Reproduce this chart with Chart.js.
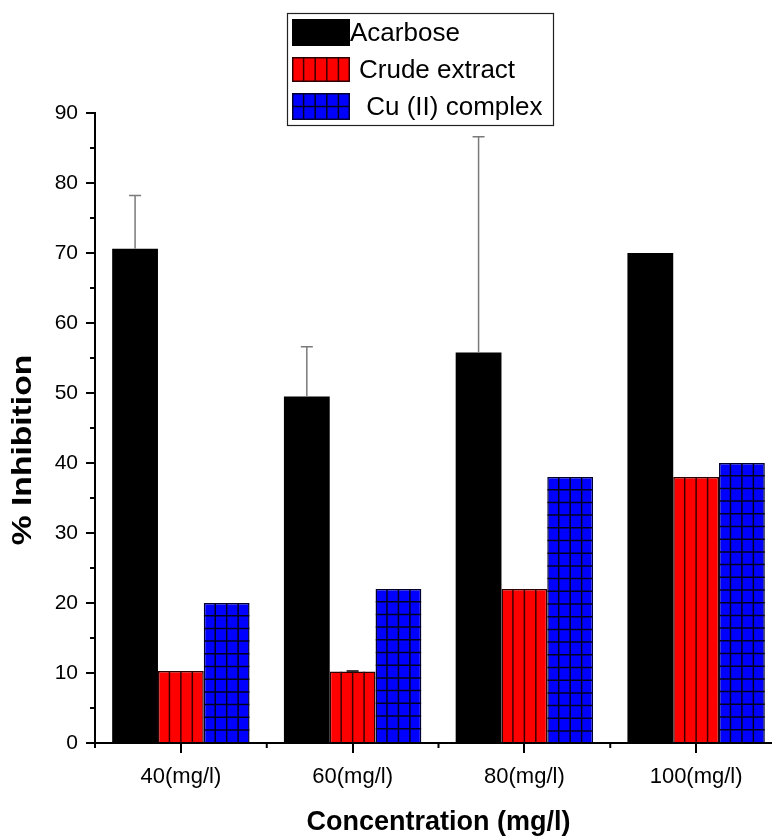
<!DOCTYPE html>
<html>
<head>
<meta charset="utf-8">
<title>% Inhibition</title>
<script src="https://cdn.jsdelivr.net/npm/chart.js@4.4.1/dist/chart.umd.min.js"></script>
<style>
    html, body { margin: 0; padding: 0; overflow: hidden; background: #fff; }
</style>
</head>
<body>
<canvas id="chart" width="784" height="839"></canvas>
<script>
// values
const categories = ['40(mg/l)', '60(mg/l)', '80(mg/l)', '100(mg/l)'];
const seriesNames = ['Acarbose', 'Crude extract', ' Cu (II) complex'];
const acarbose = [70.6, 49.5, 55.8, 70.0];
const acarboseErr = [7.6, 7.1, 30.8, 0];
const crude = [10.3, 10.2, 22.0, 38.0];
const crudeErr = [0, 0.1, 0, 0];
const copper = [20.0, 22.0, 38.0, 40.0];
const yTicks = [0, 10, 20, 30, 40, 50, 60, 70, 80, 90];
const yMinorTicks = [5, 15, 25, 35, 45, 55, 65, 75, 85];

const FONT = '"Liberation Sans", Arial, sans-serif';
const errors = [acarboseErr, crudeErr, null];
const errColors = ['#7a7a7a', '#000', '#000'];

// vertical lines for the red bars, grid for the blue ones
function hatch(ctx, left, top, width, height, cols, rowH, color) {
    ctx.save();
    ctx.beginPath();
    ctx.rect(left, top, width, height);
    ctx.clip();
    ctx.strokeStyle = color;
    ctx.lineWidth = 1.5;
    ctx.beginPath();
    for (let k = 1; k < cols; k++) {
        const lx = left + width * k / cols;
        ctx.moveTo(lx, top);
        ctx.lineTo(lx, top + height);
    }
    if (rowH) {
        for (let ly = top + rowH; ly < top + height - 1; ly += rowH) {
            ctx.moveTo(left, ly);
            ctx.lineTo(left + width, ly);
        }
    }
    ctx.stroke();
    ctx.restore();
}

const barDecor = {
    id: 'barDecor',
    afterDatasetsDraw(chart) {
        const ctx = chart.ctx;
        const yScale = chart.scales.y;
        chart.data.datasets.forEach((ds, di) => {
            const meta = chart.getDatasetMeta(di);
            meta.data.forEach((bar, i) => {
                const { x, y, base, width } = bar.getProps(['x', 'y', 'base', 'width'], true);
                const left = x - width / 2;
                if (di === 1) hatch(ctx, left, y, width, base - y, 4, 0, '#3a0000');
                if (di === 2) hatch(ctx, left, y, width, base - y, 4, 12.7, '#000020');

                const err = errors[di] ? errors[di][i] : 0;
                if (err > 0) {
                    const top = yScale.getPixelForValue(ds.data[i] + err);
                    ctx.save();
                    ctx.strokeStyle = errColors[di];
                    ctx.lineWidth = 1.5;
                    ctx.beginPath();
                    ctx.moveTo(x, y);
                    ctx.lineTo(x, top);
                    ctx.moveTo(x - 6, top);
                    ctx.lineTo(x + 6, top);
                    ctx.stroke();
                    ctx.restore();
                }
            });
        });
    }
};

const axisExtras = {
    id: 'axisExtras',
    afterDraw(chart) {
        const ctx = chart.ctx;
        const { x: xScale, y: yScale } = chart.scales;
        const area = chart.chartArea;
        ctx.save();
        ctx.strokeStyle = '#000';
        ctx.lineWidth = 2;
        ctx.beginPath();
        // minor ticks on the value axis
        yMinorTicks.forEach(v => {
            const py = yScale.getPixelForValue(v);
            ctx.moveTo(area.left, py);
            ctx.lineTo(area.left - 5, py);
        });
        // minor ticks on the category boundaries
        for (let i = 0; i <= categories.length; i++) {
            const px = xScale.getPixelForValue(i - 0.5);
            ctx.moveTo(px, area.bottom);
            ctx.lineTo(px, area.bottom + 5);
        }
        ctx.stroke();

        // y axis title, a little stretched along its length like the original
        ctx.fillStyle = '#000';
        ctx.font = 'bold 28px ' + FONT;
        ctx.textAlign = 'center';
        ctx.textBaseline = 'middle';
        ctx.translate(23, 450);
        ctx.rotate(-Math.PI / 2);
        ctx.scale(1.2, 1);
        ctx.fillText('% Inhibition', 0, 0);
        ctx.restore();
    }
};

const boxLegend = {
    id: 'boxLegend',
    afterDraw(chart) {
        const ctx = chart.ctx;
        const left = 287, top = 13, w = 266, h = 112;
        ctx.save();
        ctx.fillStyle = '#fff';
        ctx.fillRect(left, top, w, h);
        ctx.strokeStyle = '#222';
        ctx.lineWidth = 1.2;
        ctx.strokeRect(left + 0.5, top + 0.5, w, h);

        const rows = [{ y: 19, h: 27, tx: 350 }, { y: 57, h: 25, tx: 359 }, { y: 93, h: 27, tx: 359 }];
        ctx.font = '26px ' + FONT;
        ctx.textBaseline = 'middle';
        chart.data.datasets.forEach((ds, di) => {
            const r = rows[di];
            const sx = 292, sw = 58;
            ctx.fillStyle = ds.backgroundColor;
            ctx.fillRect(sx, r.y, sw, r.h);
            if (di === 1) hatch(ctx, sx, r.y, sw, r.h, 5, 0, '#3a0000');
            if (di === 2) hatch(ctx, sx, r.y, sw, r.h, 5, r.h / 2, '#000020');
            if (di > 0) {
                ctx.strokeStyle = ds.borderColor;
                ctx.lineWidth = 1.5;
                ctx.strokeRect(sx + 0.75, r.y + 0.75, sw - 1.5, r.h - 1.5);
            }
            ctx.fillStyle = '#000';
            ctx.fillText(ds.label, r.tx, r.y + r.h / 2 + 1);
        });
        ctx.restore();
    }
};

new Chart(document.getElementById('chart'), {
    type: 'bar',
    data: {
        labels: categories,
        datasets: [
            { label: seriesNames[0], data: acarbose, backgroundColor: '#000', borderColor: '#000', borderWidth: 0 },
            { label: seriesNames[1], data: crude, backgroundColor: '#ff0000', borderColor: '#300000', borderWidth: 1.5 },
            { label: seriesNames[2], data: copper, backgroundColor: '#0000ff', borderColor: '#000030', borderWidth: 1.5 }
        ]
    },
    options: {
        responsive: false,
        animation: false,
        categoryPercentage: 0.8,
        barPercentage: 1,
        layout: { padding: { top: 113, right: 2, left: 0, bottom: 0 } },
        plugins: {
            legend: { display: false },
            tooltip: { enabled: false }
        },
        scales: {
            x: {
                grid: { drawOnChartArea: false, offset: false, tickLength: 10, lineWidth: 2, color: '#000' },
                border: { display: true, color: '#000', width: 2 },
                ticks: { color: '#000', font: { family: FONT, size: 22 }, padding: 11, maxRotation: 0 },
                title: {
                    display: true,
                    text: 'Concentration (mg/l)',
                    color: '#000',
                    font: { family: FONT, size: 27, weight: 'bold' },
                    padding: { top: 0, bottom: 0 }
                },
                afterFit: s => { s.height = 96; }
            },
            y: {
                min: 0,
                max: 90,
                afterBuildTicks: s => { s.ticks = yTicks.map(v => ({ value: v })); },
                grid: { drawOnChartArea: false, tickLength: 9, lineWidth: 2, color: '#000' },
                border: { display: true, color: '#000', width: 2 },
                ticks: { color: '#000', font: { family: FONT, size: 21 }, padding: 8 },
                afterFit: s => { s.width = 95; }
            }
        }
    },
    plugins: [barDecor, axisExtras, boxLegend]
});
</script>
</body>
</html>
